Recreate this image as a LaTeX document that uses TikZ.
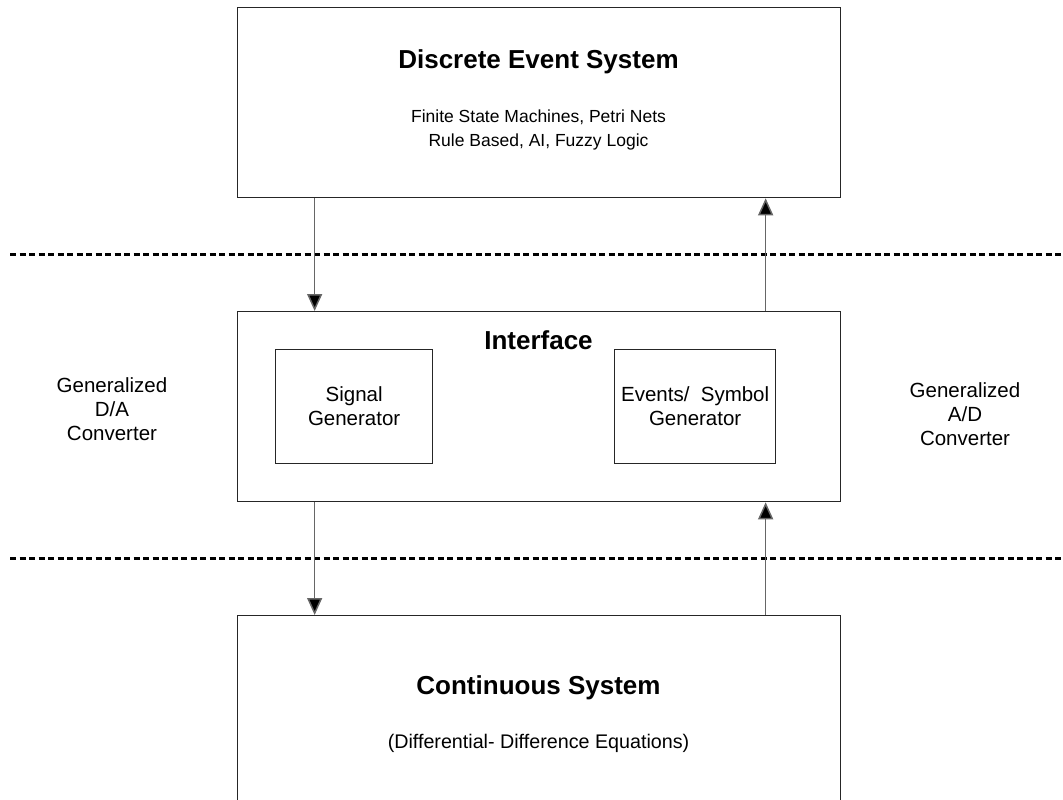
\documentclass[tikz,border=0pt]{standalone}
\usepackage{fontspec}
\setmainfont{Liberation Sans}
\usetikzlibrary{arrows.meta}
\begin{document}
\begin{tikzpicture}[x=1pt,y=-1pt,
  block/.style={draw=black!85, line width=1.3pt, inner sep=0pt, anchor=north west},
  title/.style={font=\fontsize{26}{30}\selectfont\bfseries, inner sep=0pt},
  body/.style={font=\fontsize{20.5}{24}\selectfont, align=center, inner sep=0pt},
  note/.style={body, font=\fontsize{17.5}{24}\selectfont},
  flow/.style={draw=black!60, line width=1.5pt, -{Triangle[length=17pt,width=15pt,fill=black]}},
  divider/.style={line width=3pt, dash pattern=on 6pt off 3.5pt}]
\useasboundingbox (0,0) rectangle (1063,800);
\clip (0,0) rectangle (1063,800);

% layer dividers
\coordinate (d1a) at (10,254);
\coordinate (d1b) at (1063,254);
\coordinate (d2a) at (10,558);
\coordinate (d2b) at (1063,558);
\draw[divider] (d1a) -- (d1b);
\draw[divider] (d2a) -- (d2b);

% main blocks
\node[block, minimum width=603pt, minimum height=190pt] (des) at (237,7) {};
\node[block, minimum width=603pt, minimum height=190pt] (ifc) at (237,311) {};
\node[block, minimum width=603pt, minimum height=200pt] (cs) at (237,615) {};

% interface sub-blocks
\node[block, minimum width=157pt, minimum height=114pt] (sig) at (275,349) {};
\node[block, minimum width=161pt, minimum height=114pt] (evt) at (614,349) {};

% texts
\node[title] (desT) at (538.5,62) {Discrete Event System};
\node[note] (desB) at (538.5,130) {Finite State Machines, Petri Nets\\Rule Based, AI, Fuzzy Logic};
\node[title] (ifcT) at (538.5,340) {Interface};
\node[body] (sigT) at (sig.center) {Signal\\Generator};
\node[body] (evtT) at (evt.center) {Events/\ \ Symbol\\Generator};
\node[title] (csT) at (538.5,688) {Continuous System};
\node[body, font=\fontsize{19.7}{24}\selectfont] (csB) at (538.5,743) {(Differential- Difference Equations)};
\node[body] (da) at (112,409) {Generalized\\D/A\\Converter};
\node[body] (ad) at (965,414) {Generalized\\A/D\\Converter};

% signal flow
\draw[flow] ([xshift=-224.5pt]des.south) -- ([xshift=-224.5pt]ifc.north);
\draw[flow] ([xshift=226.5pt]ifc.north) -- ([xshift=226.5pt]des.south);
\draw[flow] ([xshift=-224.5pt]ifc.south) -- ([xshift=-224.5pt]cs.north);
\draw[flow] ([xshift=226.5pt]cs.north) -- ([xshift=226.5pt]ifc.south);
\end{tikzpicture}
\end{document}
